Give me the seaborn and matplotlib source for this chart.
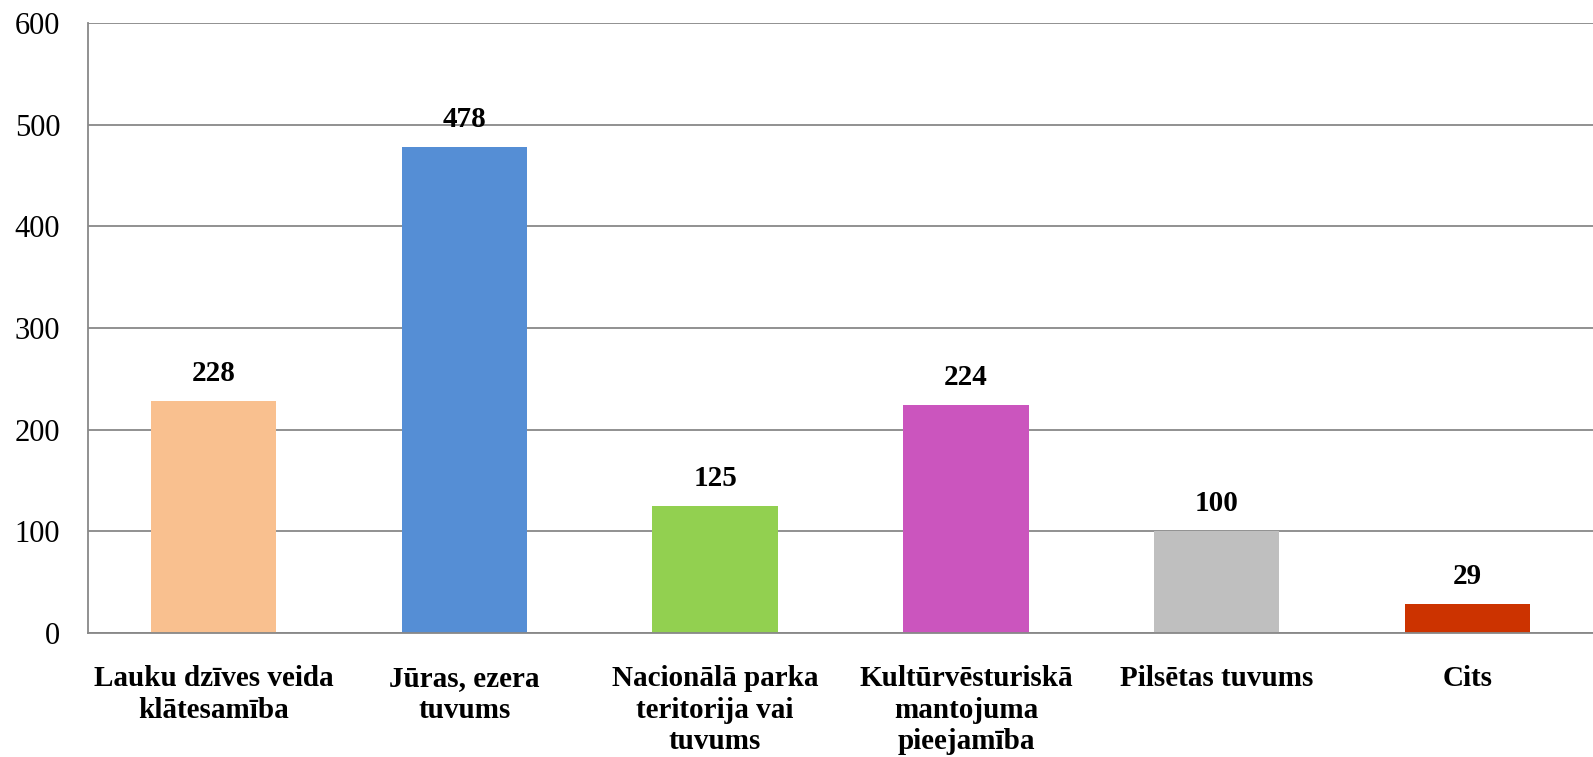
import matplotlib
matplotlib.use("Agg")
import matplotlib.pyplot as plt
import seaborn as sns
import pandas as pd

categories = [
    "Lauku dzīves veida\nklātesamība",
    "Jūras, ezera\ntuvums",
    "Nacionālā parka\nteritorija vai\ntuvums",
    "Kultūrvēsturiskā\nmantojuma\npieejamība",
    "Pilsētas tuvums",
    "Cits",
]
values = [228, 478, 125, 224, 100, 29]
colors = ["#F9C08F", "#558ED5", "#92D050", "#CB55BE", "#BFBFBF", "#CC3300"]
yticks = [0, 100, 200, 300, 400, 500, 600]

sns.set_style("white")
plt.rcParams["font.family"] = ["Liberation Serif", "DejaVu Serif"]
plt.rcParams["text.color"] = "black"
plt.rcParams["xtick.color"] = "black"
plt.rcParams["ytick.color"] = "black"

df = pd.DataFrame({"cat": categories, "val": values})

fig = plt.figure(figsize=(15.93, 7.57), dpi=100)
ax = fig.add_axes([88 / 1593, 1 - 633 / 757, 1 - 88 / 1593, (633 - 23) / 757])

sns.barplot(data=df, x="cat", y="val", hue="cat", palette=colors,
            width=0.5, legend=False, ax=ax, saturation=1, linewidth=0)

ax.set_ylim(0, 600)
ax.set_xlim(-0.5, 5.5)
ax.set_yticks(yticks)
ax.set_yticklabels([str(t) for t in yticks], fontsize=22)
ax.grid(axis="y", color="#888888", linewidth=1.3)
ax.set_axisbelow(True)
for s in ["top", "right"]:
    ax.spines[s].set_visible(False)
for s in ["left", "bottom"]:
    ax.spines[s].set_color("#888888")
    ax.spines[s].set_linewidth(1.3)
ax.tick_params(axis="y", length=8, width=1.3, color="#888888",
               labelcolor="black", pad=12)
ax.tick_params(axis="x", length=0, pad=23, labelcolor="black")
for lbl in ax.get_xticklabels():
    lbl.set_fontsize(21)
    lbl.set_fontweight("bold")
    lbl.set_linespacing(1.22)
ax.set_xlabel("")
ax.set_ylabel("")

for i, v in enumerate(values):
    ax.annotate(str(v), (i, v), xytext=(0, 10), textcoords="offset points",
                ha="center", va="bottom", fontsize=21, fontweight="bold",
                color="black")

fig.savefig("out.png", dpi=100)
